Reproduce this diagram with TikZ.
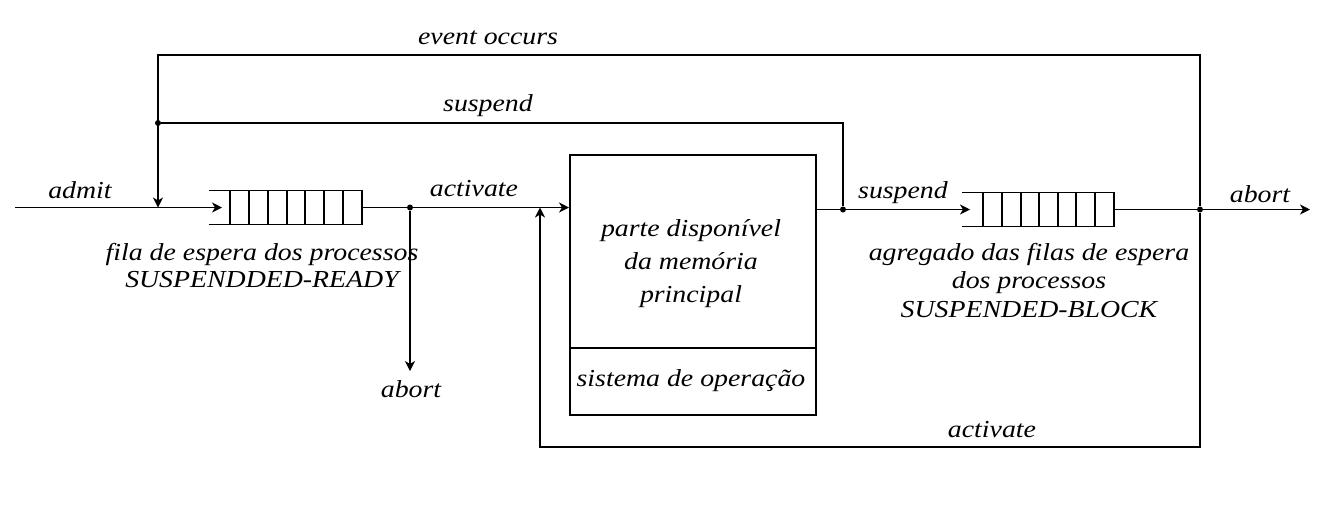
\documentclass[tikz,border=0pt]{standalone}
\usepackage{fontspec}
\setmainfont[FakeStretch=1.14]{Liberation Serif}
\usetikzlibrary{arrows.meta}
\begin{document}
\begin{tikzpicture}[x=0.5pt,y=-0.5pt,
  line/.style={line width=0.75pt},
  arr/.style={line, -{Stealth[length=5pt,width=5pt,inset=1.5pt]}},
  lbl/.style={font=\fontsize{12.2}{14}\selectfont\itshape, inner sep=0pt, align=center},
  dot/.style={circle, fill, inner sep=0pt, minimum size=3pt},
  queue/.style={minimum width=76pt, minimum height=16.5pt, inner sep=0pt, anchor=west}]
\useasboundingbox (0,0) rectangle (1324,527);

% queues
\node[queue] (q1) at (209,207.5) {};
\draw[line] (q1.north west) -- (q1.north east) -- (q1.south east) -- (q1.south west);
\foreach \x in {230,249,268,287,305,324,343}
  \draw[line] (\x,191) -- (\x,224);
\node[queue, minimum width=75.5pt] (q2) at (962,209.5) {};
\draw[line] (q2.north west) -- (q2.north east) -- (q2.south east) -- (q2.south west);
\foreach \x in {983,1002,1021,1039,1058,1076,1095}
  \draw[line] (\x,193) -- (\x,226);

% memory box
\node[draw, line, minimum width=123pt, minimum height=130pt, anchor=north west, inner sep=0pt] (mem) at (569,154) {};
\coordinate (divL) at (569,348);
\draw[line] (divL) -- (divL -| mem.east);
\node[lbl, font=\fontsize{12.2}{16.5}\selectfont\itshape, anchor=base] (memtxt) at (691,302.5) {parte disponível\\da memória\\principal};
\node[lbl, anchor=base] (ostxt) at (691,386) {sistema de operação};

% coordinates
\coordinate (in) at (15,207.5);
\coordinate (j1) at (158,207.5);
\coordinate (tl) at (158,55);
\node[dot] (dL) at (158,123) {};
\node[dot] (dA) at (410,207.5) {};
\coordinate (ab1) at (410,371);
\node[dot] (dS) at (843,209.5) {};
\node[dot] (dR) at (1200,209.5) {};
\coordinate (tr) at (1200,55);
\coordinate (br) at (1200,447);
\coordinate (bl) at (540,447);
\coordinate (j2) at (540,207.5);
\coordinate (q2in) at (970,209.5);
\coordinate (out) at (1310,209.5);

% connectors
\draw[arr] (in) -- (222,207.5);
\draw[arr] (dR) -- (tr) -- (tl) -- (j1);
\draw[line] (dS) -- (843,123) -- (dL);
\draw[line] (q1.east) -- (dA);
\draw[arr] (dA) -- (dA -| mem.west);
\draw[arr] (dA) -- (ab1);
\draw[line] (mem.east |- dS) -- (dS);
\draw[arr] (dS) -- (q2in);
\draw[line] (q2.east) -- (dR);
\draw[arr] (dR) -- (out);
\draw[arr] (dR) -- (br) -- (bl) -- (j2);

% labels
\node[lbl, anchor=base] (ladmit) at (80,198) {admit};
\node[lbl, anchor=base] (levent) at (488,44) {event occurs};
\node[lbl, anchor=base] (lsusp1) at (488,111) {suspend};
\node[lbl, anchor=base] (lact1) at (474,196) {activate};
\node[lbl, anchor=base] (lsusp2) at (903,198) {suspend};
\node[lbl, anchor=base] (labort2) at (1260,202) {abort};
\node[lbl, anchor=base] (labort1) at (411,397) {abort};
\node[lbl, anchor=base] (lact2) at (992,437) {activate};
\node[lbl, font=\fontsize{12.2}{13.25}\selectfont\itshape, anchor=base] (lq1) at (262,287) {fila de espera dos processos\\SUSPENDDED-READY};
\node[lbl, font=\fontsize{12.2}{14.25}\selectfont\itshape, anchor=base] (lq2) at (1029,317) {agregado das filas de espera\\dos processos\\SUSPENDED-BLOCK};
\end{tikzpicture}
\end{document}
